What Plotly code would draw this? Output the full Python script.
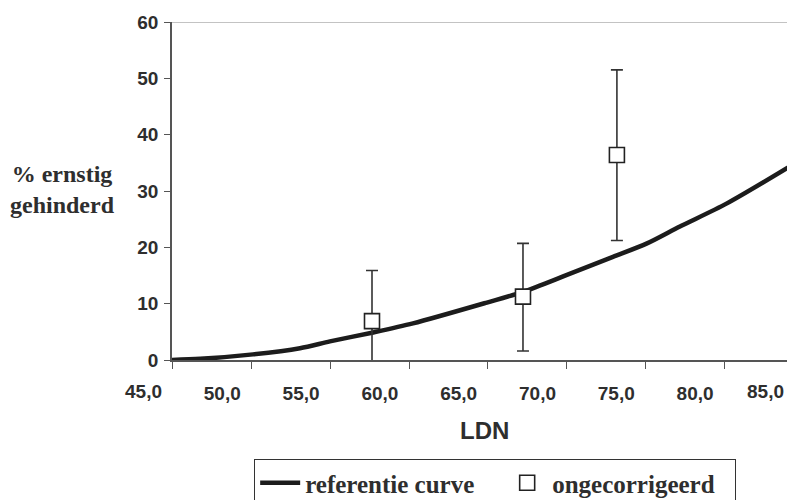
import plotly.graph_objects as go

# ---- data ----
curve_ldn = [46.81, 48.6, 51.95, 54.93, 56.83, 59.5, 62.1, 66.79, 69.08, 71.87, 74.79, 76.95, 79.04, 82.02, 86.33]
curve_pct = [0.0, 0.2, 1.0, 2.1, 3.3, 4.85, 6.5, 10.2, 12.1, 15.1, 18.3, 20.7, 23.7, 27.8, 34.9]

obs_ldn = [59.5, 69.08, 75.04]
obs_pct = [6.9, 11.25, 36.4]
obs_upper = [15.9, 20.7, 51.5]
obs_lower = [-1.6, 1.6, 21.2]

x_ticks = [45, 50, 55, 60, 65, 70, 75, 80, 85]
y_ticks = [0, 10, 20, 30, 40, 50, 60]

SANS = "Liberation Sans, Arial, sans-serif"
SERIF = "Liberation Serif, Times New Roman, serif"
TXT = "#2e2e2e"
AX = "#555555"


def fmt(v):
    return f"{v:.1f}".replace(".", ",")


err_plus = [u - v for u, v in zip(obs_upper, obs_pct)]
err_minus = [v - l for v, l in zip(obs_pct, obs_lower)]

fig = go.Figure()
fig.add_trace(go.Scatter(
    x=curve_ldn, y=curve_pct, mode="lines", name="referentie curve",
    line=dict(color="#1c1c1c", width=4.5, shape="spline", smoothing=0.8),
    legendwidth=192,
))
fig.add_trace(go.Scatter(
    x=obs_ldn, y=obs_pct, mode="markers", name="ongecorrigeerd",
    marker=dict(symbol="square", size=15, color="white", line=dict(color="#222222", width=1.6)),
    error_y=dict(type="data", symmetric=False, array=err_plus, arrayminus=err_minus,
                 color="#333333", thickness=1.6, width=6),
    cliponaxis=True,
    legendwidth=178,
))

tick_font = dict(family=SANS, size=19, color=TXT, weight="bold")

# the page body has an 8px margin, so the figure is offset by 8px
fig.update_layout(
    width=787, height=492,
    margin=dict(l=164, r=0, t=14, b=140, autoexpand=False),
    paper_bgcolor="white", plot_bgcolor="white",
    separators=",.",
    showlegend=True,
    legend=dict(
        orientation="h", xref="container", yref="container",
        x=0.3128, y=0.0833, xanchor="left", yanchor="top",
        bordercolor="#333333", borderwidth=1,
        font=dict(family=SERIF, size=25, color=TXT, weight="bold"),
        itemwidth=40, tracegroupgap=0,
    ),
    xaxis=dict(
        range=[46.81, 86.34], tickmode="array", tickvals=x_ticks[1:-1],
        tickformat=".1f", ticks="", ticklabelstandoff=15, automargin=False,
        tickfont=tick_font,
        showline=True, linecolor=AX, linewidth=1.5,
        showgrid=False, zeroline=False,
        minor=dict(tick0=46.85, dtick=5, ticks="outside", ticklen=7, tickcolor=AX, tickwidth=1.2, showgrid=False),
    ),
    yaxis=dict(
        range=[0, 60], tickmode="array", tickvals=y_ticks, automargin=False,
        ticks="outside", ticklen=6, tickcolor=AX, tickwidth=1.2,
        ticklabelstandoff=2,
        tickfont=tick_font,
        showline=True, linecolor=AX, linewidth=1.5,
        showgrid=False, zeroline=False,
    ),
    shapes=[dict(type="line", xref="paper", yref="y", x0=0, x1=1, y0=60, y1=60,
                 line=dict(color="#888888", width=1))],
    annotations=[
        dict(text=fmt(x_ticks[0]), x=-0.0457, y=0, xref="paper", yref="paper",
             xanchor="center", yanchor="top", yshift=-19, showarrow=False, font=tick_font),
        dict(text=fmt(x_ticks[-1]), x=0.9856, y=0, xref="paper", yref="paper",
             xanchor="right", yanchor="top", yshift=-19, showarrow=False, font=tick_font),
        dict(text="LDN", x=0.5024, y=-0.21, xref="paper", yref="paper",
             xanchor="center", yanchor="middle", showarrow=False,
             font=dict(family=SANS, size=24, color=TXT, weight="bold")),
        dict(text="% ernstig<br>gehinderd", x=-0.175, y=0.503, xref="paper", yref="paper",
             xanchor="center", yanchor="middle", showarrow=False, align="center",
             font=dict(family=SERIF, size=24, color=TXT, weight="bold")),
    ],
)

fig.write_html("out.html")
